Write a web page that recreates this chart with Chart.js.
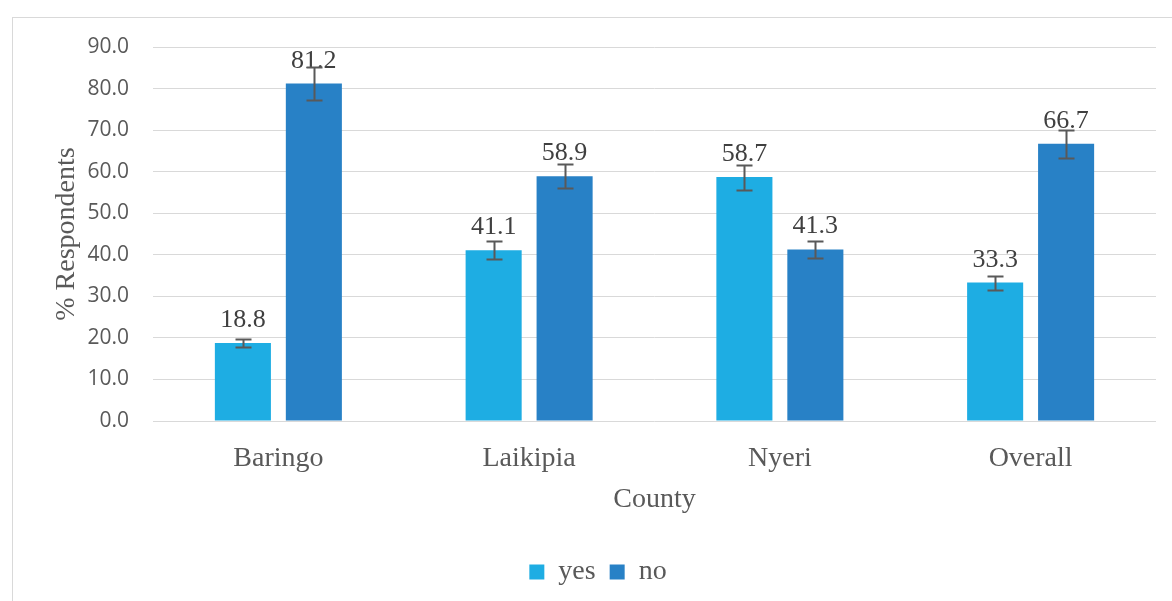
<!DOCTYPE html>
<html>
<head>
    <meta charset="utf-8" />
    <title>County respondents</title>
    <script src="https://cdn.jsdelivr.net/npm/chart.js"></script>
    <style>
        html, body { margin: 0; padding: 0; background: #fff; }
        #wrap { position: relative; width: 1172px; height: 601px; }
    </style>
</head>
<body>
    <div id="wrap">
        <canvas id="chart"></canvas>
    </div>

    <script>
        // data
        const counties = ['Baringo', 'Laikipia', 'Nyeri', 'Overall'];
        const yesValues = [18.8, 41.1, 58.7, 33.3];
        const noValues = [81.2, 58.9, 41.3, 66.7];
        const yesErrors = [1.0, 2.1, 3.0, 1.7];
        const noErrors = [4.0, 2.9, 2.1, 3.3];
        const yTicks = [0, 10, 20, 30, 40, 50, 60, 70, 80, 90];

        const serif = '"Liberation Serif", "Times New Roman", serif';
        const sans = '"Open Sans", "Liberation Sans", sans-serif';

        // thin frame round the chart area, like the office chart border
        const frame = {
            id: 'frame',
            beforeDraw(chart) {
                const ctx = chart.ctx;
                ctx.save();
                ctx.fillStyle = '#fff';
                ctx.fillRect(0, 0, chart.width, chart.height);
                ctx.strokeStyle = '#d9d9d9';
                ctx.lineWidth = 1;
                ctx.strokeRect(12.5, 17.5, 3000, 3000);
                ctx.restore();
            }
        };

        // value labels + error bars on top of bars
        const barExtras = {
            id: 'barExtras',
            afterDatasetsDraw(chart) {
                const ctx = chart.ctx;
                const y = chart.scales.y;
                const errs = [yesErrors, noErrors];
                ctx.save();
                chart.data.datasets.forEach((ds, di) => {
                    const meta = chart.getDatasetMeta(di);
                    meta.data.forEach((bar, i) => {
                        ctx.font = '26px ' + serif;
                        ctx.fillStyle = '#404040';
                        ctx.textAlign = 'center';
                        ctx.textBaseline = 'alphabetic';
                        ctx.fillText(ds.data[i].toFixed(1), bar.x, bar.y - 16);
                    });
                });
                chart.data.datasets.forEach((ds, di) => {
                    const meta = chart.getDatasetMeta(di);
                    meta.data.forEach((bar, i) => {
                        const v = ds.data[i], e = errs[di][i];
                        const top = Math.round(y.getPixelForValue(v + e)) + 0.5;
                        const bot = Math.round(y.getPixelForValue(v - e)) + 0.5;
                        const x = Math.round(bar.x) + 0.5;
                        ctx.strokeStyle = '#595959';
                        ctx.lineWidth = 2;
                        ctx.beginPath();
                        ctx.moveTo(x, top); ctx.lineTo(x, bot);
                        ctx.moveTo(x - 8, top); ctx.lineTo(x + 8, top);
                        ctx.moveTo(x - 8, bot); ctx.lineTo(x + 8, bot);
                        ctx.stroke();
                    });
                });
                ctx.restore();
            }
        };

        var ctx = document.getElementById('chart').getContext('2d');
        var chart = new Chart(ctx, {
            type: 'bar',
            data: {
                labels: counties,
                datasets: [{
                    label: 'yes',
                    data: yesValues,
                    backgroundColor: '#1eade3'
                }, {
                    label: 'no',
                    data: noValues,
                    backgroundColor: '#2881c6'
                }]
            },
            plugins: [frame, barExtras],
            options: {
                responsive: true,
                maintainAspectRatio: false,
                animation: false,
                layout: { padding: { left: 40, right: 16, top: 47, bottom: 5 } },
                datasets: {
                    bar: { categoryPercentage: 0.566, barPercentage: 0.79 }
                },
                plugins: {
                    tooltip: { enabled: false },
                    legend: {
                        position: 'bottom',
                        labels: {
                            font: { family: serif, size: 28 },
                            color: '#595959',
                            boxWidth: 15,
                            boxHeight: 15,
                            padding: 14
                        }
                    }
                },
                scales: {
                    x: {
                        grid: { display: false },
                        border: { display: false },
                        ticks: {
                            font: { family: serif, size: 28 },
                            color: '#595959',
                            padding: 13
                        },
                        title: {
                            display: true,
                            text: 'County',
                            font: { family: serif, size: 28 },
                            color: '#595959',
                            padding: { top: 4, bottom: 28 }
                        },
                        afterFit(scale) { scale.height = 123; }
                    },
                    y: {
                        min: 0,
                        max: 90,
                        afterBuildTicks(scale) {
                            scale.ticks = yTicks.map(v => ({ value: v }));
                        },
                        grid: { color: '#d9d9d9', lineWidth: 1, drawTicks: false },
                        border: { display: false },
                        ticks: {
                            font: { family: sans, size: 21 },
                            color: '#595959',
                            padding: 24,
                            callback: v => v.toFixed(1)
                        },
                        title: {
                            display: true,
                            text: '% Respondents',
                            font: { family: serif, size: 28 },
                            color: '#595959',
                            padding: { top: 10, bottom: 4 }
                        },
                        afterFit(scale) { scale.width = 113; }
                    }
                }
            }
        });
    </script>
</body>
</html>
